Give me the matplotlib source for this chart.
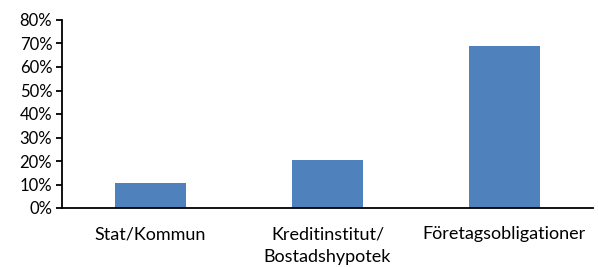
import matplotlib
matplotlib.use('Agg')
import matplotlib.pyplot as plt
import numpy as np

# data
categories = ['Stat/Kommun', 'Kreditinstitut/\nBostadshypotek', 'Företagsobligationer']
shares = [0.107, 0.203, 0.69]
yticks = np.arange(0, 0.81, 0.1)

plt.rcParams['font.family'] = ['Lato', 'DejaVu Sans']

fig = plt.figure(figsize=(5.98, 2.67), dpi=100)
ax = fig.add_axes([62/598, 1-208/267, 531/598, 188/267])

x = np.arange(len(categories))
ax.bar(x, shares, width=0.4, color='#4F81BD')

ax.set_xlim(-0.5, 2.5)
ax.set_ylim(0, 0.8)
ax.set_yticks(yticks)
ax.set_yticklabels(['%d%%' % round(v*100) for v in yticks])
ax.set_xticks(x)
ax.set_xticklabels(categories, linespacing=1.55)

for s in ['top', 'right']:
    ax.spines[s].set_visible(False)
for s in ['left', 'bottom']:
    ax.spines[s].set_linewidth(1.3)
ax.tick_params(axis='y', length=4, width=1.3, labelsize=12, pad=3)
ax.tick_params(axis='x', length=0, labelsize=13, pad=13)

fig.savefig('out.png', dpi=100)
